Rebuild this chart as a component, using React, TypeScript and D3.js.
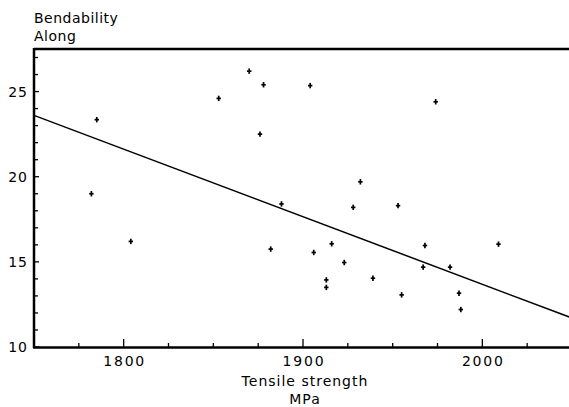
import React from "react";
import * as d3 from "d3";

const tensile = [1785, 1782, 1804, 1870, 1878, 1904, 1853, 1876, 1888, 1932, 1928, 1882, 1906, 1916, 1923, 1913, 1913, 1939, 1953, 1968, 2009, 1967, 1982, 1955, 1987, 1988, 1974];
const bendability = [23.35, 19.0, 16.2, 26.2, 25.4, 25.35, 24.6, 22.5, 18.4, 19.7, 18.2, 15.75, 15.55, 16.06, 14.96, 13.94, 13.5, 14.04, 18.3, 15.96, 16.04, 14.69, 14.69, 13.06, 13.16, 12.2, 24.4];
const regX = [1750, 2050];
const regY = [23.6, 11.7];
const xMajorTicks = [1800, 1900, 2000];
const yMajorTicks = [10, 15, 20, 25];

const W = 569, H = 407;
const font = "'DejaVu Sans', sans-serif";

export default function App() {
  const x = d3.scaleLinear().domain([1750, 2050]).range([34, 572]);
  const y = d3.scaleLinear().domain([10, 27.5]).range([347, 49]);
  const xMinor = d3.range(1750, 2051, 25).filter((v) => v % 100 !== 0 && v > 1750);
  const yMinor = d3.range(10, 27.01, 1).filter((v) => v % 5 !== 0);
  const line = d3.line<number>().x((_, i) => x(regX[i])).y((d) => y(d));
  return (
    <svg width={W} height={H} style={{ position: "absolute", left: 0, top: 0, background: "#fff" }}>
      <rect width={W} height={H} fill="#fff" />
      <line x1={34} x2={W} y1={49} y2={49} stroke="#000" strokeWidth={2.5} />
      <line x1={34} x2={34} y1={48} y2={348} stroke="#000" strokeWidth={2.5} />
      <line x1={33} x2={W} y1={347.5} y2={347.5} stroke="#000" strokeWidth={2.5} />
      {xMajorTicks.map((v) => (
        <g key={"xm" + v}>
          <line x1={x(v)} x2={x(v)} y1={347} y2={339} stroke="#000" strokeWidth={1.3} />
          <text x={x(v) + 1} y={366} textAnchor="middle" fontFamily={font} fontSize={14} letterSpacing={1.8}>{v}</text>
        </g>
      ))}
      {xMinor.map((v) => (
        <line key={"xn" + v} x1={x(v)} x2={x(v)} y1={347} y2={343} stroke="#000" strokeWidth={1.3} />
      ))}
      {yMajorTicks.map((v) => (
        <g key={"ym" + v}>
          <line x1={34} x2={39} y1={y(v)} y2={y(v)} stroke="#000" strokeWidth={1.3} />
          <text x={28} y={y(v) + 5} textAnchor="end" fontFamily={font} fontSize={14} letterSpacing={1}>{v}</text>
        </g>
      ))}
      {yMinor.map((v) => (
        <line key={"yn" + v} x1={34} x2={38} y1={y(v)} y2={y(v)} stroke="#000" strokeWidth={1.3} />
      ))}
      <path d={line(regY) || ""} fill="none" stroke="#000" strokeWidth={1.5} />
      {tensile.map((t, i) => (
        <g key={"p" + i} transform={`translate(${x(t)},${y(bendability[i])})`}>
          <line x1={-2.2} x2={2.2} y1={0} y2={0} stroke="#000" strokeWidth={1.7} />
          <line x1={0} x2={0} y1={-2.7} y2={2.7} stroke="#000" strokeWidth={1.7} />
        </g>
      ))}
      <text x={34} y={23} fontFamily={font} fontSize={14} letterSpacing={0.5}>Bendability</text>
      <text x={34} y={41} fontFamily={font} fontSize={14} letterSpacing={0.5}>Along</text>
      <text x={305} y={386} textAnchor="middle" fontFamily={font} fontSize={14} letterSpacing={1}>Tensile strength</text>
      <text x={305} y={404} textAnchor="middle" fontFamily={font} fontSize={14} letterSpacing={1}>MPa</text>
    </svg>
  );
}
